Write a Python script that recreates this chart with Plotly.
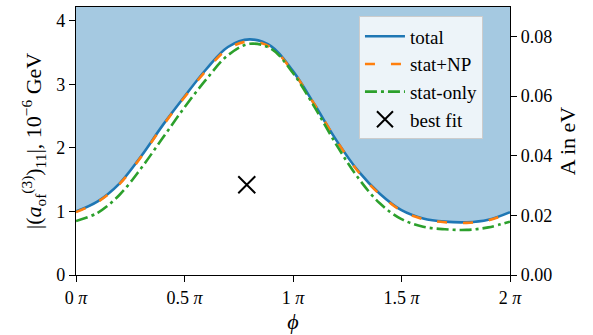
import plotly.graph_objects as go

# phi in units of pi
phi = [0.0, 0.1, 0.2, 0.3, 0.4, 0.5, 0.6, 0.7, 0.8, 0.9, 1.0,
       1.1, 1.2, 1.3, 1.4, 1.5, 1.6, 1.7, 1.8, 1.9, 2.0]
total = [1.00, 1.16, 1.44, 1.87, 2.36, 2.81, 3.24, 3.59, 3.71, 3.60, 3.21,
         2.68, 2.12, 1.64, 1.28, 1.02, 0.89, 0.84, 0.83, 0.87, 0.99]
stat_np = [0.99, 1.15, 1.43, 1.86, 2.35, 2.80, 3.22, 3.56, 3.68, 3.58, 3.20,
           2.68, 2.12, 1.63, 1.27, 1.01, 0.88, 0.83, 0.82, 0.86, 0.98]
stat_only = [0.85, 0.98, 1.26, 1.68, 2.16, 2.64, 3.08, 3.46, 3.64, 3.56, 3.18,
             2.64, 2.05, 1.53, 1.13, 0.88, 0.76, 0.72, 0.71, 0.75, 0.84]
best_fit_phi = [0.787]
best_fit_val = [1.42]

Y_MAX = 4.22
Y2_MAX = 0.0899
x_tickvals = [0, 0.5, 1, 1.5, 2]
x_ticktext = ["0 <i>π</i>", "0.5 <i>π</i>", "1 <i>π</i>", "1.5 <i>π</i>", "2 <i>π</i>"]
y_ticks = [0, 1, 2, 3, 4]
y2_ticks = [0.0, 0.02, 0.04, 0.06, 0.08]

FONT = "'Liberation Serif', 'DejaVu Serif', serif"
FS = 18
fig = go.Figure()

# excluded region fill (above total curve)
fig.add_trace(go.Scatter(x=phi, y=[Y_MAX] * len(phi), mode="lines",
                         line=dict(width=0), showlegend=False, hoverinfo="skip"))
fig.add_trace(go.Scatter(x=phi, y=total, mode="lines", showlegend=False, hoverinfo="skip",
                         line=dict(width=0, shape="spline"),
                         fill="tonexty", fillcolor="#a5c9e1"))

fig.add_trace(go.Scatter(x=phi, y=total, mode="lines", name="total",
                         line=dict(color="#1f77b4", width=2.6, shape="spline")))
fig.add_trace(go.Scatter(x=phi, y=stat_np, mode="lines", name="stat+NP",
                         line=dict(color="#ff7f0e", width=2.6, shape="spline", dash="10px,16px")))
fig.add_trace(go.Scatter(x=phi, y=stat_only, mode="lines", name="stat-only",
                         line=dict(color="#2ca02c", width=2.6, shape="spline", dash="12px,4px,3px,4px")))
fig.add_trace(go.Scatter(x=best_fit_phi, y=best_fit_val, mode="markers", name="best fit",
                         marker=dict(symbol="x-thin", size=17, line=dict(color="black", width=2))))
# dummy trace for right axis
fig.add_trace(go.Scatter(x=[0], y=[0], yaxis="y2", mode="markers",
                         marker=dict(opacity=0), showlegend=False, hoverinfo="skip"))

fig.update_layout(
    width=593, height=335,
    margin=dict(l=76, r=83, t=6, b=59),
    plot_bgcolor="white", paper_bgcolor="white",
    font=dict(family=FONT, size=FS, color="black"),
    showlegend=True,
    legend=dict(x=0.652, y=0.965, xanchor="left", yanchor="top", traceorder="normal",
                bgcolor="rgba(255,255,255,0.8)", bordercolor="#cccccc", borderwidth=1,
                font=dict(family=FONT, size=19), itemwidth=40,
                tracegroupgap=0),
    xaxis=dict(range=[0, 2], tickvals=x_tickvals, ticktext=x_ticktext,
               showline=True, linecolor="black", linewidth=1.3, mirror=True,
               ticks="outside", ticklen=6, tickcolor="black", showgrid=False, zeroline=False,
               title=dict(text="<i>ϕ</i>", standoff=6)),
    yaxis=dict(range=[0, Y_MAX], tickvals=y_ticks,
               showline=True, linecolor="black", linewidth=1.3,
               ticks="outside", ticklen=6, tickcolor="black", showgrid=False, zeroline=False,
               title=dict(text="|(<i>a</i><sub>of</sub><sup>(3)</sup>)<sub>11</sub>|, 10<sup>−6</sup> GeV",
                          standoff=8)),
    yaxis2=dict(range=[0, Y2_MAX], tickvals=y2_ticks, tickformat=".2f",
                overlaying="y", side="right",
                showline=True, linecolor="black", linewidth=1.3,
                ticks="outside", ticklen=6, tickcolor="black", showgrid=False, zeroline=False,
                title=dict(text="A in eV", standoff=8)),
)

fig.write_html("out.html")
